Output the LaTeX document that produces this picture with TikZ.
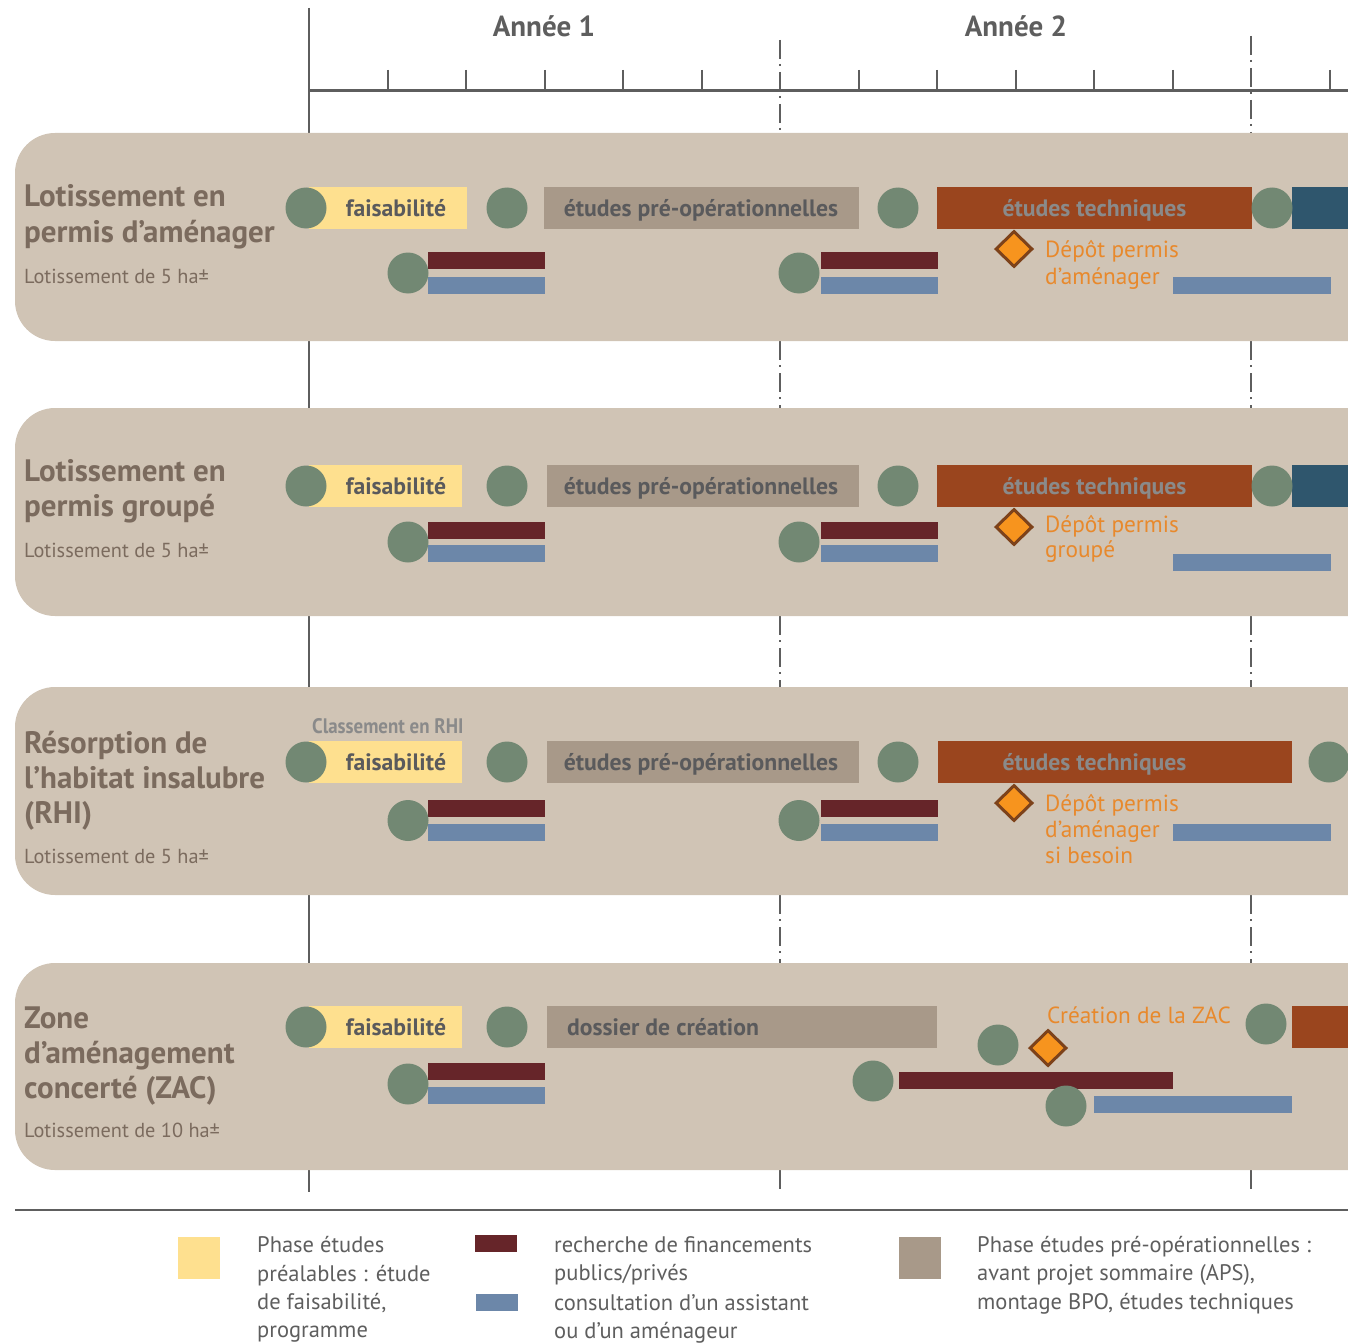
\documentclass[tikz,border=0pt]{standalone}
\usepackage{fontspec}
\setmainfont{PT Sans}
\usetikzlibrary{shapes.geometric}
\definecolor{bandc}{HTML}{D0C4B5}
\definecolor{yel}{HTML}{FEE08F}
\definecolor{phgray}{HTML}{A89989}
\definecolor{brownc}{HTML}{9A451E}
\definecolor{tealc}{HTML}{2F566D}
\definecolor{mgreen}{HTML}{728873}
\definecolor{redbar}{HTML}{662529}
\definecolor{bluebar}{HTML}{6C87A9}
\definecolor{orfill}{HTML}{F7941E}
\definecolor{orline}{HTML}{7D421A}
\definecolor{ortext}{HTML}{E8892C}
\definecolor{titlec}{HTML}{7B6B5E}
\definecolor{axisc}{HTML}{5E5E5E}
\definecolor{bartext}{HTML}{5A5A5C}
\definecolor{techtext}{HTML}{8A8A8A}
\definecolor{legtext}{HTML}{5E5E5E}
\begin{document}
\begin{tikzpicture}[x=1pt,y=-1pt,
  mstone/.style={circle, fill=mgreen, minimum size=41pt, inner sep=0pt},
  barbox/.style={rectangle, inner sep=0pt, minimum height=42pt, anchor=west},
  thinbar/.style={rectangle, inner sep=0pt, minimum height=17pt, anchor=west},
  legsq/.style={rectangle, inner sep=0pt, minimum width=42pt, anchor=north west},
  bartxt/.style={anchor=base, inner sep=0pt, text=bartext, font=\fontsize{23.7}{28}\selectfont\bfseries},
  techtxt/.style={bartxt, text=techtext},
  ortxt/.style={anchor=base west, inner sep=0pt, text=ortext, font=\fontsize{23.3}{28}\selectfont},
  ttl/.style={anchor=base west, inner sep=0pt, text=titlec, font=\fontsize{31}{35}\selectfont\bfseries},
  subttl/.style={anchor=base west, inner sep=0pt, text=titlec, font=\fontsize{20.3}{24}\selectfont},
  legtxt/.style={anchor=base west, inner sep=0pt, text=legtext, font=\fontsize{22.5}{26}\selectfont},
  yeartxt/.style={anchor=base, inner sep=0pt, text=axisc, font=\fontsize{29}{33}\selectfont\bfseries},
  mdiamond/.style={diamond, fill=orfill, draw=orline, line width=3pt, minimum width=37pt, minimum height=36pt, inner sep=0pt},
  axisline/.style={axisc, line width=2pt},
  tickline/.style={axisc, line width=2.5pt},
  ddline/.style={axisc, line width=2.5pt, dash pattern=on 19pt off 5pt on 2pt off 6pt},
  bandfill/.style={fill=bandc, rounded corners=40pt}
]
\useasboundingbox (0,0) rectangle (1348,1343);
\clip (0,0) rectangle (1348,1343);

% ---------- axis ----------
\draw[axisline] (309,8) -- (309,1192);
\draw[axisc, line width=3pt] (309,91) -- (1348,91);
\foreach \x in {388,466,545,623,702,859,937,1016,1094,1173,1330}
  \draw[tickline] (\x,70) -- (\x,91);
\draw[ddline] (780,40) -- (780,133);
\draw[ddline] (1251,36) -- (1251,133);
\foreach \ya/\yb in {341/408, 616/687, 895/963, 1170/1192} {
  \draw[ddline] (780,\ya) -- (780,\yb);
  \draw[ddline] (1251,\ya) -- (1251,\yb);
}
\node[yeartxt] (y1) at (544,37) {Année 1};
\node[yeartxt] (y2) at (1016,37) {Année 2};

% ---------- bands ----------
\fill[bandfill] (15,133) rectangle (1420,341);
\fill[bandfill] (15,408) rectangle (1420,616);
\fill[bandfill] (15,687) rectangle (1420,895);
\fill[bandfill] (15,963) rectangle (1420,1170);

% ---------- band 1 ----------
\node[ttl] (b1t1) at (24,207) {Lotissement en};
\node[ttl] (b1t2) at (24,242) {permis d’aménager};
\node[subttl] (b1s) at (24,283) {Lotissement de 5 ha±};
\node[barbox, fill=yel, minimum width=158pt] (b1fa) at (309,208) {};
\node[barbox, fill=phgray, minimum width=315pt] (b1po) at (544,208) {};
\node[barbox, fill=brownc, minimum width=315pt] (b1et) at (937,208) {};
\node[barbox, fill=tealc, minimum width=60pt] (b1nx) at (1292,208) {};
\node[bartxt] (b1fat) at (396,216) {faisabilité};
\node[bartxt] (b1pot) at (701,216) {études pré-opérationnelles};
\node[techtxt] (b1ett) at (1094.5,216) {études techniques};
\node[mstone] (b1m1) at (306,208) {};
\node[mstone] (b1m2) at (507,208) {};
\node[mstone] (b1m3) at (898,208) {};
\node[mstone] (b1m4) at (1272,208) {};
\node[thinbar, fill=redbar, minimum width=117pt] (b1r1) at (428,260.5) {};
\node[thinbar, fill=bluebar, minimum width=117pt] (b1b1) at (428,285.5) {};
\node[mstone] (b1m5) at (408,273) {};
\node[thinbar, fill=redbar, minimum width=117pt] (b1r2) at (821,260.5) {};
\node[thinbar, fill=bluebar, minimum width=117pt] (b1b2) at (821,285.5) {};
\node[mstone] (b1m6) at (799,273) {};
\node[mdiamond] (b1d) at (1014,249) {};
\node[ortxt] (b1o1) at (1045,257) {Dépôt permis};
\node[ortxt] (b1o2) at (1045,284) {d’aménager};
\node[thinbar, fill=bluebar, minimum width=158pt] (b1b3) at (1173,285.5) {};

% ---------- band 2 ----------
\node[ttl] (b2t1) at (24,481) {Lotissement en};
\node[ttl] (b2t2) at (24,516) {permis groupé};
\node[subttl] (b2s) at (24,557) {Lotissement de 5 ha±};
\node[barbox, fill=yel, minimum width=153pt] (b2fa) at (309,486) {};
\node[barbox, fill=phgray, minimum width=312pt] (b2po) at (547,486) {};
\node[barbox, fill=brownc, minimum width=315pt] (b2et) at (937,486) {};
\node[barbox, fill=tealc, minimum width=60pt] (b2nx) at (1292,486) {};
\node[bartxt] (b2fat) at (396,494) {faisabilité};
\node[bartxt] (b2pot) at (701,494) {études pré-opérationnelles};
\node[techtxt] (b2ett) at (1094.5,494) {études techniques};
\node[mstone] (b2m1) at (306,486) {};
\node[mstone] (b2m2) at (507,486) {};
\node[mstone] (b2m3) at (898,486) {};
\node[mstone] (b2m4) at (1272,486) {};
\node[thinbar, fill=redbar, minimum width=117pt] (b2r1) at (428,530.5) {};
\node[thinbar, fill=bluebar, minimum width=117pt] (b2b1) at (428,553.5) {};
\node[mstone] (b2m5) at (408,542) {};
\node[thinbar, fill=redbar, minimum width=117pt] (b2r2) at (821,530.5) {};
\node[thinbar, fill=bluebar, minimum width=117pt] (b2b2) at (821,553.5) {};
\node[mstone] (b2m6) at (799,542) {};
\node[mdiamond] (b2d) at (1014,527) {};
\node[ortxt] (b2o1) at (1045,532) {Dépôt permis};
\node[ortxt] (b2o2) at (1045,557) {groupé};
\node[thinbar, fill=bluebar, minimum width=158pt] (b2b3) at (1173,562.5) {};

% ---------- band 3 ----------
\node[ttl] (b3t1) at (24,753) {Résorption de};
\node[ttl] (b3t2) at (24,788) {l’habitat insalubre};
\node[ttl] (b3t3) at (24,823) {(RHI)};
\node[subttl] (b3s) at (24,863) {Lotissement de 5 ha±};
\node[anchor=base west, inner sep=0pt, text=techtext, font=\fontsize{21}{24}\selectfont\bfseries] (b3cl) at (312,733) {\scalebox{0.9}[1]{Classement en RHI}};
\node[barbox, fill=yel, minimum width=153pt] (b3fa) at (309,762) {};
\node[barbox, fill=phgray, minimum width=312pt] (b3po) at (547,762) {};
\node[barbox, fill=brownc, minimum width=354pt] (b3et) at (938,762) {};
\node[bartxt] (b3fat) at (396,770) {faisabilité};
\node[bartxt] (b3pot) at (701,770) {études pré-opérationnelles};
\node[techtxt] (b3ett) at (1094.5,770) {études techniques};
\node[mstone] (b3m1) at (306,762) {};
\node[mstone] (b3m2) at (507,762) {};
\node[mstone] (b3m3) at (898,762) {};
\node[mstone] (b3m4) at (1329,762) {};
\node[thinbar, fill=redbar, minimum width=117pt] (b3r1) at (428,808.5) {};
\node[thinbar, fill=bluebar, minimum width=117pt] (b3b1) at (428,832.5) {};
\node[mstone] (b3m5) at (408,820.5) {};
\node[thinbar, fill=redbar, minimum width=117pt] (b3r2) at (821,808.5) {};
\node[thinbar, fill=bluebar, minimum width=117pt] (b3b2) at (821,832.5) {};
\node[mstone] (b3m6) at (799,820.5) {};
\node[mdiamond] (b3d) at (1014,803) {};
\node[ortxt] (b3o1) at (1045,811) {Dépôt permis};
\node[ortxt] (b3o2) at (1045,837) {d’aménager};
\node[ortxt] (b3o3) at (1045,863) {si besoin};
\node[thinbar, fill=bluebar, minimum width=158pt] (b3b3) at (1173,832.5) {};

% ---------- band 4 ----------
\node[ttl] (b4t1) at (24,1028) {Zone};
\node[ttl] (b4t2) at (24,1063) {d’aménagement};
\node[ttl] (b4t3) at (24,1098) {concerté (ZAC)};
\node[subttl] (b4s) at (24,1137) {Lotissement de 10 ha±};
\node[barbox, fill=yel, minimum width=153pt] (b4fa) at (309,1027) {};
\node[barbox, fill=phgray, minimum width=390pt] (b4dc) at (547,1027) {};
\node[barbox, fill=brownc, minimum width=60pt] (b4nx) at (1292,1027) {};
\node[bartxt] (b4fat) at (396,1035) {faisabilité};
\node[bartxt, anchor=base west] (b4dct) at (567,1035) {dossier de création};
\node[mstone] (b4m1) at (306,1027) {};
\node[mstone] (b4m2) at (507,1027) {};
\node[thinbar, fill=redbar, minimum width=117pt] (b4r1) at (428,1071.5) {};
\node[thinbar, fill=bluebar, minimum width=117pt] (b4b1) at (428,1095.5) {};
\node[mstone] (b4m5) at (408,1084) {};
\node[mstone] (b4m3) at (998,1045) {};
\node[mdiamond] (b4d) at (1048,1048) {};
\node[ortxt] (b4o1) at (1047,1023) {Création de la ZAC};
\node[mstone] (b4m4) at (1266,1024) {};
\node[thinbar, fill=redbar, minimum width=274pt] (b4r2) at (899,1080.5) {};
\node[mstone] (b4m6) at (873,1081) {};
\node[thinbar, fill=bluebar, minimum width=198pt] (b4b2) at (1094,1104.5) {};
\node[mstone] (b4m7) at (1066,1106) {};

% ---------- legend ----------
\draw[axisc, line width=2pt] (15,1210) -- (1348,1210);
\node[legsq, fill=yel, minimum height=42pt] (lg1) at (178,1237) {};
\node[legtxt] (lg1a) at (257,1252) {Phase études};
\node[legtxt] (lg1b) at (257,1281) {préalables : étude};
\node[legtxt] (lg1c) at (257,1309) {de faisabilité,};
\node[legtxt] (lg1d) at (257,1337) {programme};
\node[legsq, fill=redbar, minimum height=17pt] (lg2) at (475,1235) {};
\node[legsq, fill=bluebar, minimum height=17pt] (lg3) at (476,1294) {};
\node[legtxt] (lg2a) at (554,1252) {recherche de financements};
\node[legtxt] (lg2b) at (554,1280) {publics/privés};
\node[legtxt] (lg3a) at (554,1310) {consultation d’un assistant};
\node[legtxt] (lg3b) at (554,1338) {ou d’un aménageur};
\node[legsq, fill=phgray, minimum height=42pt] (lg4) at (899,1237) {};
\node[legtxt] (lg4a) at (977,1252) {Phase études pré-opérationnelles :};
\node[legtxt] (lg4b) at (977,1280) {avant projet sommaire (APS),};
\node[legtxt] (lg4c) at (977,1309) {montage BPO, études techniques};
\end{tikzpicture}
\end{document}
